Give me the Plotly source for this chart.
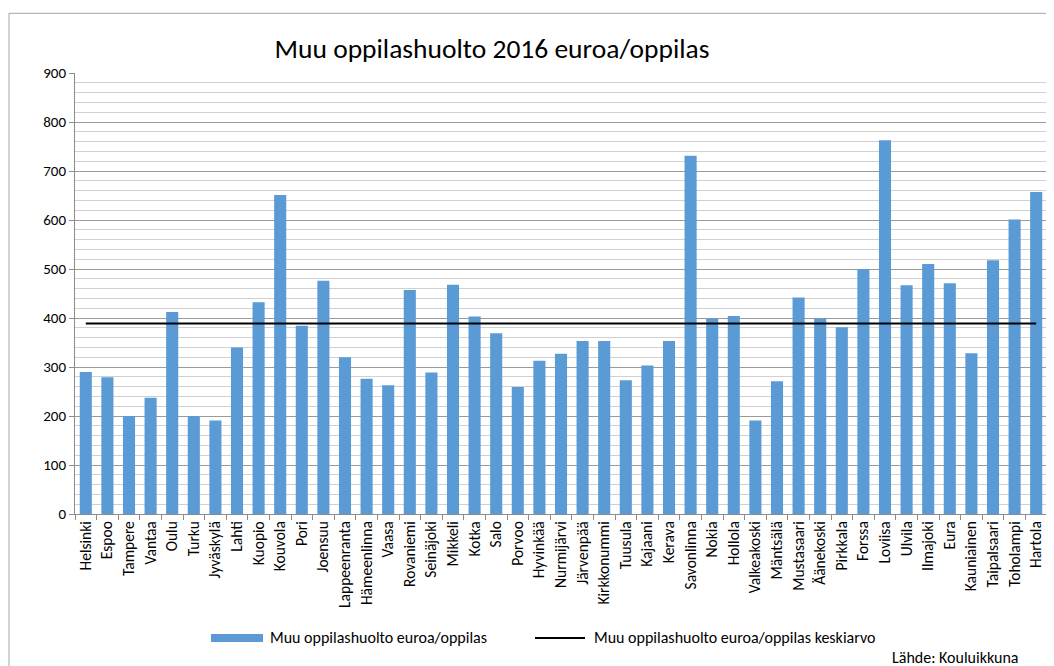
import plotly.graph_objects as go

kunnat = ["Helsinki", "Espoo", "Tampere", "Vantaa", "Oulu", "Turku", "Jyväskylä", "Lahti",
          "Kuopio", "Kouvola", "Pori", "Joensuu", "Lappeenranta", "Hämeenlinna", "Vaasa",
          "Rovaniemi", "Seinäjoki", "Mikkeli", "Kotka", "Salo", "Porvoo", "Hyvinkää",
          "Nurmijärvi", "Järvenpää", "Kirkkonummi", "Tuusula", "Kajaani", "Kerava",
          "Savonlinna", "Nokia", "Hollola", "Valkeakoski", "Mäntsälä", "Mustasaari",
          "Äänekoski", "Pirkkala", "Forssa", "Loviisa", "Ulvila", "Ilmajoki", "Eura",
          "Kauniainen", "Taipalsaari", "Toholampi", "Hartola"]

euroa_oppilas = [290, 279, 200, 237, 412, 200, 191, 340, 432, 651, 384, 476, 320, 276, 263,
                 457, 289, 468, 403, 369, 259, 313, 327, 353, 353, 273, 303, 353, 731, 399,
                 404, 191, 271, 442, 399, 381, 500, 763, 467, 510, 471, 328, 518, 601, 657]

keskiarvo = 389

y_ticks = [0, 100, 200, 300, 400, 500, 600, 700, 800, 900]

FONT = "Carlito, Calibri, Lato, sans-serif"
BLUE = "#5b9bd5"

# page has an 8px body margin; figure is sized to fit the window
OFF = 8
W, H = 1046, 658
L, R, T, B = 67, 7, 64.7, 152
PW = W - L - R
PH = H - T - B


def px_x(px):
    return (px - OFF - L) / PW


def px_y(py):
    return (H - B - (py - OFF)) / PH


fig = go.Figure()
fig.add_trace(go.Bar(x=kunnat, y=euroa_oppilas, marker=dict(color=BLUE, line=dict(width=0)),
                     name="Muu oppilashuolto euroa/oppilas", showlegend=False))
fig.add_trace(go.Scatter(x=kunnat, y=[keskiarvo] * len(kunnat), mode="lines",
                         line=dict(color="black", width=2),
                         name="Muu oppilashuolto euroa/oppilas keskiarvo", showlegend=False))

shapes = [
    # outer frame (left and top visible)
    dict(type="line", xref="paper", yref="paper", x0=px_x(9), x1=px_x(1070), y0=px_y(13), y1=px_y(13),
         line=dict(color="#a6a6a6", width=1)),
    dict(type="line", xref="paper", yref="paper", x0=px_x(9), x1=px_x(9), y0=px_y(13), y1=px_y(680),
         line=dict(color="#a6a6a6", width=1)),
    # legend samples
    dict(type="rect", xref="paper", yref="paper", x0=px_x(211), x1=px_x(263), y0=px_y(634), y1=px_y(642),
         fillcolor=BLUE, line=dict(width=0)),
    dict(type="line", xref="paper", yref="paper", x0=px_x(535), x1=px_x(585), y0=px_y(638), y1=px_y(638),
         line=dict(color="black", width=2)),
]

annotations = [
    dict(text="Muu oppilashuolto euroa/oppilas", xref="paper", yref="paper", x=px_x(268), y=px_y(638),
         xanchor="left", yanchor="middle", showarrow=False, font=dict(size=16, color="#000", family=FONT)),
    dict(text="Muu oppilashuolto euroa/oppilas keskiarvo", xref="paper", yref="paper", x=px_x(592),
         y=px_y(638), xanchor="left", yanchor="middle", showarrow=False,
         font=dict(size=16, color="#000", family=FONT)),
    dict(text="Lähde: Kouluikkuna", xref="paper", yref="paper", x=px_x(890), y=px_y(658),
         xanchor="left", yanchor="middle", showarrow=False, font=dict(size=16, color="#000", family=FONT)),
]

fig.update_layout(
    width=W, height=H,
    margin=dict(l=L, r=R, t=T, b=B, autoexpand=False),
    paper_bgcolor="white", plot_bgcolor="white",
    font=dict(family=FONT, color="#000"),
    title=dict(text="Muu oppilashuolto 2016 euroa/oppilas", xref="container", yref="container",
               x=(492 - OFF) / W, y=1 - (48 - OFF) / H, xanchor="center", yanchor="middle",
               font=dict(size=27.5, color="#000", family=FONT)),
    bargap=0.44,
    shapes=shapes,
    annotations=annotations,
    showlegend=False,
    xaxis=dict(
        type="category", tickangle=-90, tickfont=dict(size=15.5, family=FONT, color="#000"),
        showline=True, linecolor="#8c8c8c", linewidth=1,
        ticks="outside", tickson="boundaries", ticklen=5, tickcolor="#8c8c8c",
        showgrid=False, range=[-0.5, len(kunnat) - 0.5],
    ),
    yaxis=dict(
        range=[0, 900], tickvals=y_ticks, ticktext=[str(v) for v in y_ticks],
        tickfont=dict(size=15, family=FONT, color="#000"),
        showline=True, linecolor="#8c8c8c", linewidth=1,
        ticks="outside", ticklen=5, tickcolor="#8c8c8c",
        showgrid=True, gridcolor="#9a9a9a", gridwidth=1,
        minor=dict(dtick=20, showgrid=True, gridcolor="#d0d0d0", gridwidth=1, ticks=""),
        zeroline=False,
    ),
)

fig.write_html("out.html")
